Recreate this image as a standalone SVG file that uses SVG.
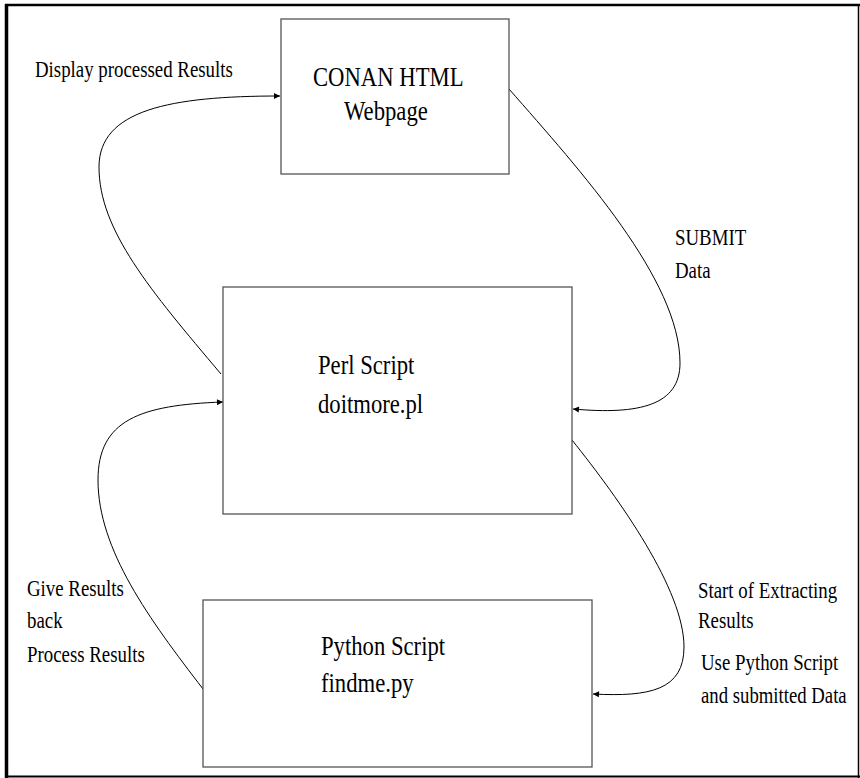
<svg xmlns="http://www.w3.org/2000/svg" width="860" height="778" viewBox="0 0 860 778">
<style>
  .box { fill: #ffffff; stroke: #555555; stroke-width: 1.3; }
  .conn { fill: none; stroke: #000000; stroke-width: 1; }
  .big { font-family: "Liberation Serif", "Times New Roman", serif; font-size: 28px; fill: #000000; }
  .small { font-family: "Liberation Serif", "Times New Roman", serif; font-size: 23px; fill: #000000; }
  .frame { stroke: #000000; fill: none; }
</style>
<defs>
  <marker id="arrow" viewBox="0 0 10 10" refX="10" refY="5" markerWidth="9" markerHeight="6" markerUnits="userSpaceOnUse" orient="auto">
    <path d="M0,0 L10,5 L0,10 Z" fill="#000000"/>
  </marker>
</defs>
<rect width="860" height="778" fill="#ffffff"/>
<g id="frame">
  <line class="frame" x1="5" y1="5" x2="860" y2="5" stroke-width="2.5"/>
  <line class="frame" x1="6.5" y1="4" x2="6.5" y2="778" stroke-width="3.5"/>
  <line class="frame" x1="5" y1="776.5" x2="860" y2="776.5" stroke-width="2"/>
  <line class="frame" x1="858.5" y1="4" x2="858.5" y2="778" stroke-width="1.5"/>
</g>
<g id="connectors">
  <path class="conn" d="M221,374 C150,290 99,230 99,167 C99,110 170,96 280,96" marker-end="url(#arrow)"/>
  <path class="conn" d="M509,89 C580,170 680,280 680,363 C680,405 640,415 573,409" marker-end="url(#arrow)"/>
  <path class="conn" d="M572,440 C620,500 684,590 684,647 C684,690 650,697 593,694" marker-end="url(#arrow)"/>
  <path class="conn" d="M203,689 C150,620 98,550 98,480 C98,420 140,405 223,402" marker-end="url(#arrow)"/>
</g>
<g id="node-conan">
  <rect class="box" x="281" y="19" width="228" height="155"/>
  <text class="big" transform="translate(313 86) scale(0.81 1)">CONAN HTML</text>
  <text class="big" transform="translate(344 120) scale(0.81 1)">Webpage</text>
</g>
<g id="node-perl">
  <rect class="box" x="223" y="287" width="349" height="227"/>
  <text class="big" transform="translate(318 374) scale(0.81 1)">Perl Script</text>
  <text class="big" transform="translate(318 413) scale(0.81 1)">doitmore.pl</text>
</g>
<g id="node-python">
  <rect class="box" x="203" y="600" width="389" height="167"/>
  <text class="big" transform="translate(321 655) scale(0.81 1)">Python Script</text>
  <text class="big" transform="translate(321 692) scale(0.81 1)">findme.py</text>
</g>
<g id="labels">
  <text class="small" transform="translate(35 77) scale(0.82 1)">Display processed Results</text>
  <text class="small" transform="translate(675 245) scale(0.82 1)">SUBMIT</text>
  <text class="small" transform="translate(675 278) scale(0.82 1)">Data</text>
  <text class="small" transform="translate(27 596) scale(0.82 1)">Give Results</text>
  <text class="small" transform="translate(27 628) scale(0.82 1)">back</text>
  <text class="small" transform="translate(27 662) scale(0.82 1)">Process Results</text>
  <text class="small" transform="translate(698 598) scale(0.82 1)">Start of Extracting</text>
  <text class="small" transform="translate(698 628) scale(0.82 1)">Results</text>
  <text class="small" transform="translate(701 670) scale(0.82 1)">Use Python Script</text>
  <text class="small" transform="translate(701 703) scale(0.815 1)">and submitted Data</text>
</g>
</svg>
